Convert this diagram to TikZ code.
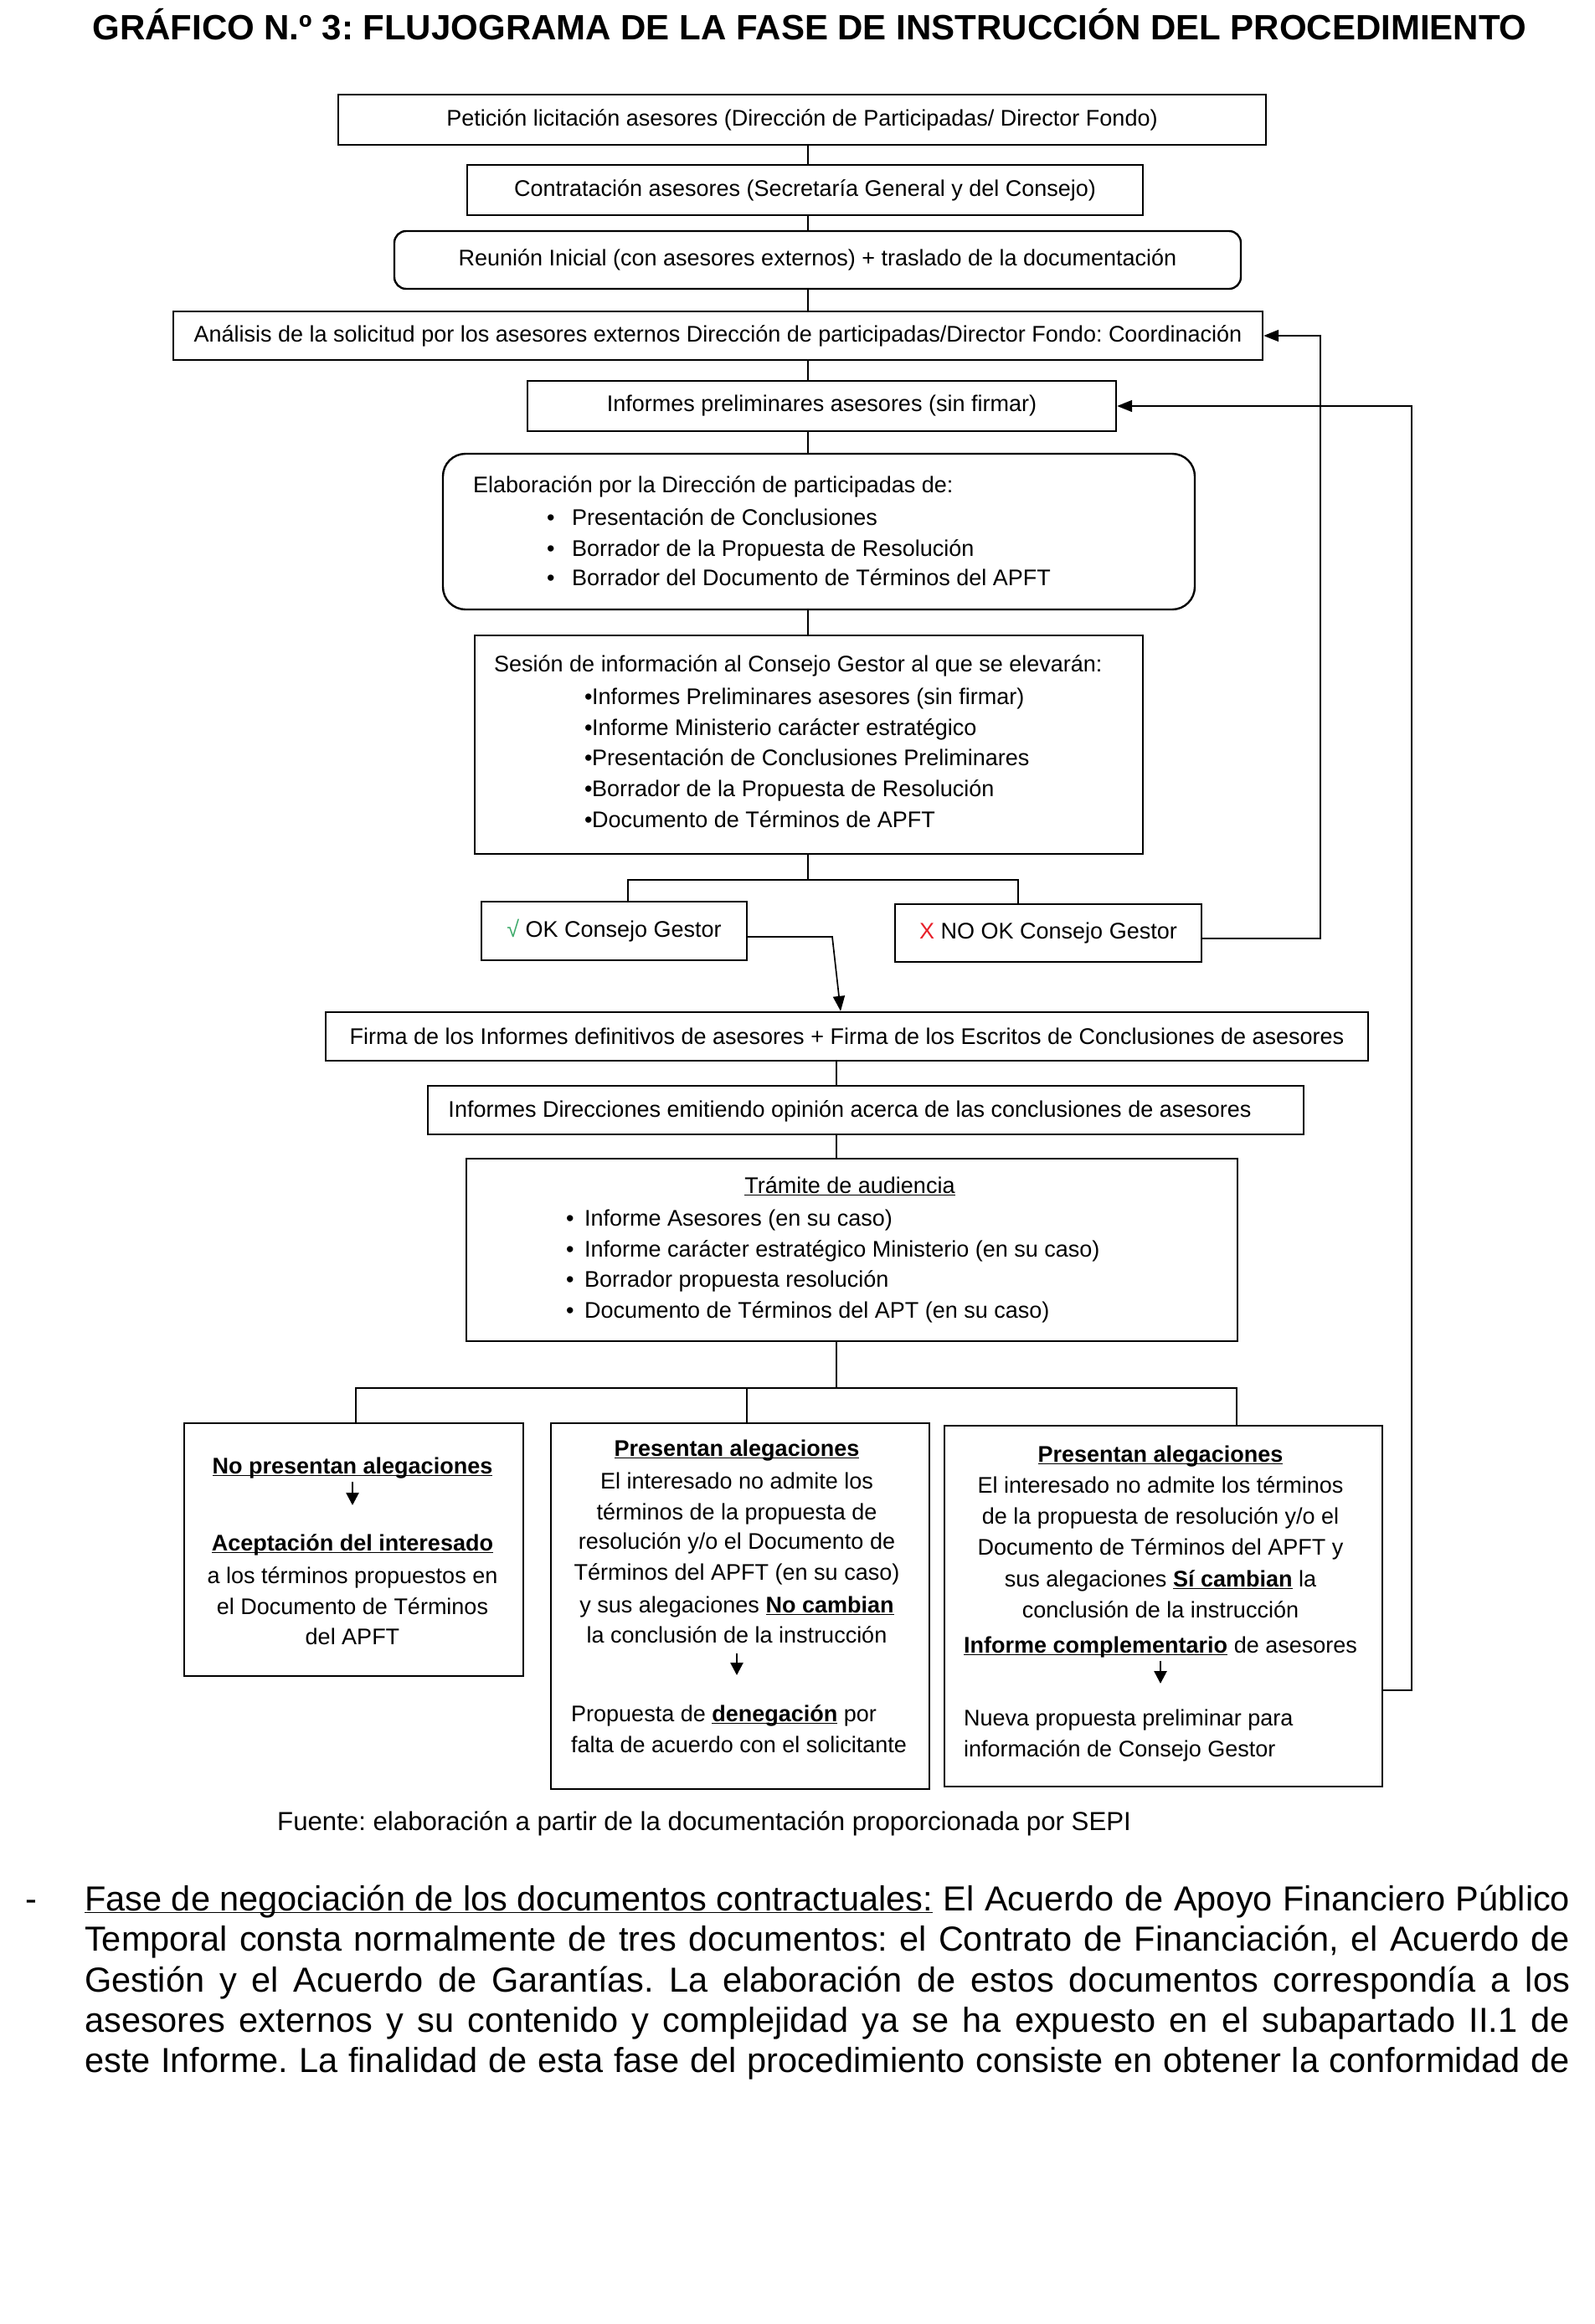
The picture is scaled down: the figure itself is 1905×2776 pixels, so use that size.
\documentclass[tikz,border=0pt]{standalone}
\usepackage{fontspec}
\setmainfont{Liberation Sans}
\usetikzlibrary{arrows.meta}
\definecolor{okgreen}{HTML}{3DAA6A}
\definecolor{nored}{HTML}{E8202A}
\newcommand\dfont{\fontsize{27}{37}\selectfont}
\newcommand\uln[1]{\underline{\smash{#1}}}
\newcommand\bu[1]{\uln{\textbf{#1}}}
\newcommand\bul[1]{\makebox[#1][l]{\textbullet}}
\frenchspacing
\begin{document}
\begin{tikzpicture}[x=1pt,y=-1pt,
  box/.style={draw, line width=2.4pt, inner sep=0pt, font=\dfont, align=center},
  rbox/.style={box, rounded corners=14pt},
  txt/.style={inner sep=0pt, font=\dfont},
  conn/.style={line width=1.7pt},
  arr/.style={conn, -{Triangle[length=18pt,width=14pt]}},
  sarr/.style={line width=2.6pt, -{Triangle[length=15pt,width=15pt]}},
  para/.style={inner sep=0pt, font=\fontsize{41.5}{48}\selectfont, anchor=mid west}]
\useasboundingbox (0,0) rectangle (1905,2776);

% title
\node[inner sep=0pt, font=\fontsize{42}{48}\selectfont\bfseries, anchor=base] (title) at (967,47)
  {GRÁFICO N.º 3: FLUJOGRAMA DE LA FASE DE INSTRUCCIÓN DEL PROCEDIMIENTO};

% boxes
\node[box, minimum width=1108pt, minimum height=60pt] (b1) at (958,143)
  {\raisebox{-3pt}{Petición licitación asesores (Dirección de Participadas/ Director Fondo)}};
\node[box, minimum width=807pt, minimum height=60pt] (b2) at (961.5,227)
  {\raisebox{-3pt}{Contratación asesores (Secretaría General y del Consejo)}};
\node[rbox, minimum width=1011pt, minimum height=69pt] (b3) at (976.5,310.5)
  {\raisebox{-2pt}{Reunión Inicial (con asesores externos) + traslado de la documentación}};
\node[box, minimum width=1301pt, minimum height=58pt] (b4) at (857.5,401)
  {\raisebox{-3pt}{Análisis de la solicitud por los asesores externos Dirección de participadas/Director Fondo: Coordinación}};
\node[box, minimum width=703pt, minimum height=60pt] (b5) at (981.5,485)
  {\raisebox{-2pt}{Informes preliminares asesores (sin firmar)}};

\node[box, rounded corners=27pt, minimum width=898pt, minimum height=186pt] (b6) at (978,635) {};
\node[txt, anchor=mid west] (b6h) at (565,586) {Elaboración por la Dirección de participadas de:};
\node[txt, anchor=mid west] (b6a) at (653,625) {\bul{30pt}Presentación de Conclusiones};
\node[txt, anchor=mid west] (b6b) at (653,662) {\bul{30pt}Borrador de la Propuesta de Resolución};
\node[txt, anchor=mid west] (b6c) at (653,697) {\bul{30pt}Borrador del Documento de Términos del APFT};

\node[box, minimum width=798pt, minimum height=261pt] (b7) at (966,889.5) {};
\node[txt, anchor=mid west] (b7h) at (590,800) {Sesión de información al Consejo Gestor al que se elevarán:};
\node[txt, anchor=mid west] (b7a) at (698,839) {\bul{9pt}Informes Preliminares asesores (sin firmar)};
\node[txt, anchor=mid west] (b7b) at (698,876) {\bul{9pt}Informe Ministerio carácter estratégico};
\node[txt, anchor=mid west] (b7c) at (698,912) {\bul{9pt}Presentación de Conclusiones Preliminares};
\node[txt, anchor=mid west] (b7d) at (698,949) {\bul{9pt}Borrador de la Propuesta de Resolución};
\node[txt, anchor=mid west] (b7e) at (698,986) {\bul{9pt}Documento de Términos de APFT};

\node[box, minimum width=317pt, minimum height=70pt] (b8) at (733.5,1112)
  {\raisebox{-2pt}{{\color{okgreen}√} OK Consejo Gestor}};
\node[box, minimum width=366pt, minimum height=69pt] (b9) at (1252,1114.5)
  {\raisebox{-1pt}{{\color{nored}X} NO OK Consejo Gestor}};

\node[box, minimum width=1245pt, minimum height=58pt] (b10) at (1011.5,1238)
  {Firma de los Informes definitivos de asesores + Firma de los Escritos de Conclusiones de asesores};
\node[box, minimum width=1046pt, minimum height=58pt] (b11) at (1034,1326) {};
\node[txt, anchor=mid] (b11t) at (1015,1332)
  {Informes Direcciones emitiendo opinión acerca de las conclusiones de asesores};

\node[box, minimum width=921pt, minimum height=218pt] (b12) at (1017.5,1493) {};
\node[txt, anchor=mid] (b12h) at (1015,1423) {\uln{Trámite de audiencia}};
\node[txt, anchor=mid west] (b12a) at (676,1462) {\bul{22pt}Informe Asesores (en su caso)};
\node[txt, anchor=mid west] (b12b) at (676,1499) {\bul{22pt}Informe carácter estratégico Ministerio (en su caso)};
\node[txt, anchor=mid west] (b12c) at (676,1535) {\bul{22pt}Borrador propuesta resolución};
\node[txt, anchor=mid west] (b12d) at (676,1572) {\bul{22pt}Documento de Términos del APT (en su caso)};

% bottom boxes
\node[box, minimum width=405pt, minimum height=302pt] (b13) at (422.5,1851) {};
\node[txt, anchor=mid] (l1) at (421,1758) {\bu{No presentan alegaciones}};
\node[txt, anchor=mid] (l2) at (421,1850) {\bu{Aceptación del interesado}};
\node[txt, anchor=mid] (l3) at (421,1889) {a los términos propuestos en};
\node[txt, anchor=mid] (l4) at (421,1926) {el Documento de Términos};
\node[txt, anchor=mid] (l5) at (421,1962) {del APFT};

\node[box, minimum width=452pt, minimum height=437pt] (b14) at (884,1918.5) {};
\node[txt, anchor=mid] (m1) at (880,1737) {\bu{Presentan alegaciones}};
\node[txt, anchor=mid] (m2) at (880,1776) {El interesado no admite los};
\node[txt, anchor=mid] (m3) at (880,1813) {términos de la propuesta de};
\node[txt, anchor=mid] (m4) at (880,1848) {resolución y/o el Documento de};
\node[txt, anchor=mid] (m5) at (880,1885) {Términos del APFT (en su caso)};
\node[txt, anchor=mid] (m6) at (880,1924) {y sus alegaciones \bu{No cambian}};
\node[txt, anchor=mid] (m7) at (880,1960) {la conclusión de la instrucción};
\node[txt, anchor=mid west] (m8) at (682,2054) {Propuesta de \bu{denegación} por};
\node[txt, anchor=mid west] (m9) at (682,2091) {falta de acuerdo con el solicitante};

\node[box, minimum width=523pt, minimum height=431pt] (b15) at (1389.5,1918.5) {};
\node[txt, anchor=mid] (r1) at (1386,1744) {\bu{Presentan alegaciones}};
\node[txt, anchor=mid] (r2) at (1386,1781) {El interesado no admite los términos};
\node[txt, anchor=mid] (r3) at (1386,1818) {de la propuesta de resolución y/o el};
\node[txt, anchor=mid] (r4) at (1386,1855) {Documento de Términos del APFT y};
\node[txt, anchor=mid] (r5) at (1386,1893) {sus alegaciones \bu{Sí cambian} la};
\node[txt, anchor=mid] (r6) at (1386,1930) {conclusión de la instrucción};
\node[txt, anchor=mid] (r7) at (1386,1972) {\bu{Informe complementario} de asesores};
\node[txt, anchor=mid west] (r8) at (1151,2059) {Nueva propuesta preliminar para};
\node[txt, anchor=mid west] (r9) at (1151,2096) {información de Consejo Gestor};

% small arrows inside boxes
\draw[sarr, shorten <=12pt, shorten >=52pt] (l1.mid) -- (l2.mid);
\draw[sarr, shorten <=15pt, shorten >=53pt] (m7.mid) -- (m7.mid |- m8.mid);
\draw[sarr, shorten <=12pt, shorten >=48pt] (r7.mid) -- (r7.mid |- r8.mid);

% connectors
\coordinate (tx) at (965,0);
\draw[conn] (b1.south -| tx) -- (b2.north -| tx);
\draw[conn] (b2.south -| tx) -- (b3.north -| tx);
\draw[conn] (b3.south -| tx) -- (b4.north -| tx);
\draw[conn] (b4.south -| tx) -- (b5.north -| tx);
\draw[conn] (b5.south -| tx) -- (b6.north -| tx);
\draw[conn] (b6.south -| tx) -- (b7.north -| tx);

\coordinate (s1) at (965,1051);
\coordinate (xL) at (750,0);
\coordinate (xR) at (1216,0);
\draw[conn] (b7.south -| tx) -- (s1);
\draw[conn] (b8.north -| xL) -- (xL |- s1) -- (xR |- s1) -- (b9.north -| xR);

\coordinate (okc) at (994,1119);
\coordinate (fx) at (1004,0);
\draw[arr] (b8.east |- okc) -- (okc) -- (b10.north -| fx);

\coordinate (nx) at (1577,1121);
\draw[arr] (b9.east |- nx) -- (nx) -- (nx |- b4.east) -- (b4.east);

\coordinate (rx) at (1686,2019);
\draw[arr] (b15.east |- rx) -- (rx) -- (rx |- b5.east) -- (b5.east);

\coordinate (ux) at (999,0);
\draw[conn] (b10.south -| ux) -- (b11.north -| ux);
\draw[conn] (b11.south -| ux) -- (b12.north -| ux);
\coordinate (s2) at (999,1658);
\draw[conn] (b12.south -| ux) -- (s2);
\coordinate (x1) at (425,0);
\coordinate (x2) at (892,0);
\coordinate (x3) at (1477,0);
\draw[conn] (b13.north -| x1) -- (x1 |- s2) -- (x3 |- s2) -- (b15.north -| x3);
\draw[conn] (x2 |- s2) -- (b14.north -| x2);

% source and paragraph
\node[inner sep=0pt, font=\fontsize{31.2}{38}\selectfont, anchor=mid west] (src) at (331,2184)
  {Fuente: elaboración a partir de la documentación proporcionada por SEPI};
\node[para] (dash) at (30,2280) {-};
\node[para] (p1) at (101,2280) {\makebox[1774pt][s]{\uln{Fase de negociación de los documentos contractuales:} El Acuerdo de Apoyo Financiero Público}};
\node[para] (p2) at (101,2328) {\makebox[1774pt][s]{Temporal consta normalmente de tres documentos: el Contrato de Financiación, el Acuerdo de}};
\node[para] (p3) at (101,2377) {\makebox[1774pt][s]{Gestión y el Acuerdo de Garantías. La elaboración de estos documentos correspondía a los}};
\node[para] (p4) at (101,2425) {\makebox[1774pt][s]{asesores externos y su contenido y complejidad ya se ha expuesto en el subapartado II.1 de}};
\node[para] (p5) at (101,2473) {\makebox[1774pt][s]{este Informe. La finalidad de esta fase del procedimiento consiste en obtener la conformidad de}};
\end{tikzpicture}
\end{document}
